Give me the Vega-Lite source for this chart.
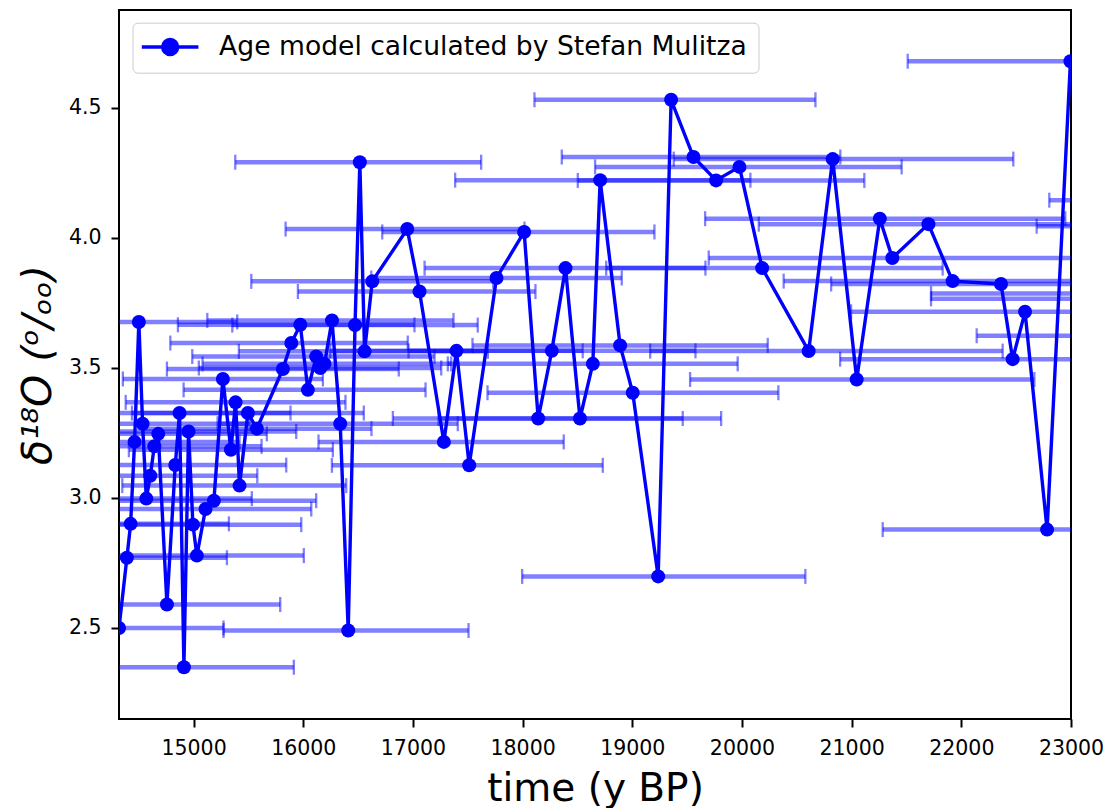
{
  "$schema": "https://vega.github.io/schema/vega-lite/v6.json",
  "width": 952,
  "height": 709,
  "autosize": {"type": "none"},
  "padding": {"left": 119, "top": 10, "right": 38, "bottom": 89},
  "config": {
    "font": "DejaVu Sans",
    "view": {"stroke": "black", "strokeWidth": 2},
    "axis": {
      "grid": false,
      "domain": false,
      "ticks": true,
      "tickColor": "black",
      "tickWidth": 2,
      "tickSize": 8,
      "labelFont": "DejaVu Sans",
      "labelFontSize": 20.5,
      "labelColor": "black",
      "titleFont": "DejaVu Sans",
      "titleFontSize": 39,
      "titleFontWeight": "normal",
      "titleColor": "black"
    }
  },
  "data": {
    "values": [
      {"age": 14320, "d18O": 2.50, "lo": 13360, "hi": 15273},
      {"age": 14392, "d18O": 2.77, "lo": 13480, "hi": 15304},
      {"age": 14426, "d18O": 2.90, "lo": 13530, "hi": 15322},
      {"age": 14462, "d18O": 3.215, "lo": 13505, "hi": 15419},
      {"age": 14501, "d18O": 3.676, "lo": 13604, "hi": 15398},
      {"age": 14535, "d18O": 3.285, "lo": 13560, "hi": 15510},
      {"age": 14569, "d18O": 2.997, "lo": 13607, "hi": 15531},
      {"age": 14605, "d18O": 3.085, "lo": 13629, "hi": 15581},
      {"age": 14642, "d18O": 3.198, "lo": 13664, "hi": 15620},
      {"age": 14678, "d18O": 3.246, "lo": 13688, "hi": 15668},
      {"age": 14757, "d18O": 2.59, "lo": 13724, "hi": 15790},
      {"age": 14833, "d18O": 3.126, "lo": 13821, "hi": 15845},
      {"age": 14872, "d18O": 3.326, "lo": 13860, "hi": 15884},
      {"age": 14912, "d18O": 2.349, "lo": 13910, "hi": 15914},
      {"age": 14954, "d18O": 3.255, "lo": 13972, "hi": 15936},
      {"age": 14994, "d18O": 2.897, "lo": 14006, "hi": 15982},
      {"age": 15030, "d18O": 2.778, "lo": 14055, "hi": 16005},
      {"age": 15109, "d18O": 2.957, "lo": 14145, "hi": 16073},
      {"age": 15185, "d18O": 2.989, "lo": 14252, "hi": 16118},
      {"age": 15267, "d18O": 3.457, "lo": 14355, "hi": 16179},
      {"age": 15340, "d18O": 3.185, "lo": 14410, "hi": 16270},
      {"age": 15383, "d18O": 3.367, "lo": 14381, "hi": 16385},
      {"age": 15419, "d18O": 3.047, "lo": 14350, "hi": 16392},
      {"age": 15495, "d18O": 3.326, "lo": 14438, "hi": 16552},
      {"age": 15577, "d18O": 3.266, "lo": 14532, "hi": 16622},
      {"age": 15814, "d18O": 3.495, "lo": 14757, "hi": 16871},
      {"age": 15891, "d18O": 3.595, "lo": 14788, "hi": 16953},
      {"age": 15973, "d18O": 3.665, "lo": 14857, "hi": 17014},
      {"age": 16042, "d18O": 3.415, "lo": 14909, "hi": 17115},
      {"age": 16118, "d18O": 3.543, "lo": 14988, "hi": 17197},
      {"age": 16155, "d18O": 3.499, "lo": 15048, "hi": 17258},
      {"age": 16194, "d18O": 3.515, "lo": 15082, "hi": 17349},
      {"age": 16262, "d18O": 3.682, "lo": 15125, "hi": 17370},
      {"age": 16337, "d18O": 3.285, "lo": 15219, "hi": 17409},
      {"age": 16410, "d18O": 2.49, "lo": 15273, "hi": 17507},
      {"age": 16472, "d18O": 3.664, "lo": 15353, "hi": 17591},
      {"age": 16516, "d18O": 4.29, "lo": 15380, "hi": 17622},
      {"age": 16559, "d18O": 3.563, "lo": 15413, "hi": 17683},
      {"age": 16629, "d18O": 3.832, "lo": 15526, "hi": 17732},
      {"age": 16948, "d18O": 4.033, "lo": 15839, "hi": 18017},
      {"age": 17060, "d18O": 3.793, "lo": 15951, "hi": 18117},
      {"age": 17282, "d18O": 3.215, "lo": 16139, "hi": 18375},
      {"age": 17397, "d18O": 3.565, "lo": 16246, "hi": 18548},
      {"age": 17513, "d18O": 3.125, "lo": 16261, "hi": 18731},
      {"age": 17762, "d18O": 3.845, "lo": 16620, "hi": 18904},
      {"age": 18014, "d18O": 4.022, "lo": 16720, "hi": 19202},
      {"age": 18142, "d18O": 3.305, "lo": 16817, "hi": 19460},
      {"age": 18266, "d18O": 3.565, "lo": 16960, "hi": 19576},
      {"age": 18391, "d18O": 3.883, "lo": 17106, "hi": 19667},
      {"age": 18523, "d18O": 3.305, "lo": 17233, "hi": 19810},
      {"age": 18640, "d18O": 3.515, "lo": 17318, "hi": 19961},
      {"age": 18707, "d18O": 4.221, "lo": 17385, "hi": 20077},
      {"age": 18889, "d18O": 3.586, "lo": 17543, "hi": 20235},
      {"age": 19004, "d18O": 3.404, "lo": 17680, "hi": 20332},
      {"age": 19236, "d18O": 2.698, "lo": 17996, "hi": 20578},
      {"age": 19354, "d18O": 4.53, "lo": 18108, "hi": 20670},
      {"age": 19558, "d18O": 4.31, "lo": 18357, "hi": 20897},
      {"age": 19764, "d18O": 4.22, "lo": 18503, "hi": 21116},
      {"age": 19977, "d18O": 4.272, "lo": 18661, "hi": 21456},
      {"age": 20184, "d18O": 3.883, "lo": 18762, "hi": 21830},
      {"age": 20608, "d18O": 3.564, "lo": 19163, "hi": 22377},
      {"age": 20827, "d18O": 4.302, "lo": 19378, "hi": 22474},
      {"age": 21046, "d18O": 3.455, "lo": 19527, "hi": 22666},
      {"age": 21257, "d18O": 4.073, "lo": 19664, "hi": 22948},
      {"age": 21371, "d18O": 3.922, "lo": 19697, "hi": 23048},
      {"age": 21700, "d18O": 4.052, "lo": 20153, "hi": 23258},
      {"age": 21921, "d18O": 3.833, "lo": 20380, "hi": 23459},
      {"age": 22362, "d18O": 3.822, "lo": 20813, "hi": 23914},
      {"age": 22468, "d18O": 3.533, "lo": 20895, "hi": 24042},
      {"age": 22581, "d18O": 3.715, "lo": 20995, "hi": 24170},
      {"age": 22782, "d18O": 2.878, "lo": 21283, "hi": 24279},
      {"age": 22995, "d18O": 4.678, "lo": 21511, "hi": 24480},
      {"age": null, "d18O": 4.144, "lo": 22802, "hi": 25900},
      {"age": null, "d18O": 4.044, "lo": 22687, "hi": 25700},
      {"age": null, "d18O": 3.785, "lo": 21724, "hi": 24900},
      {"age": null, "d18O": 3.765, "lo": 21724, "hi": 24900},
      {"age": null, "d18O": 3.623, "lo": 22140, "hi": 25200}
    ]
  },
  "encoding": {
    "y": {
      "field": "d18O",
      "type": "quantitative",
      "scale": {"domain": [2.15, 4.875], "nice": false, "zero": false},
      "axis": {
        "values": [2.5, 3.0, 3.5, 4.0, 4.5],
        "format": ".1f",
        "labelPadding": 10,
        "title": "δ¹⁸O  (ᵒ/ₒₒ)",
        "titleFontSize": 41,
        "titleFontStyle": "italic",
        "titleAngle": -90,
        "titleAlign": "center",
        "titleBaseline": "alphabetic",
        "titleX": -69,
        "titleY": 354.5
      }
    }
  },
  "layer": [
    {
      "mark": {"type": "rule", "color": "blue", "opacity": 0.5, "strokeWidth": 4.5, "clip": true},
      "encoding": {
        "x": {
          "field": "lo",
          "type": "quantitative",
          "scale": {"domain": [14320, 23000], "nice": false, "zero": false},
          "axis": {
            "values": [15000, 16000, 17000, 18000, 19000, 20000, 21000, 22000, 23000],
            "format": "d",
            "labelPadding": 11,
            "labelFlush": false,
            "title": "time (y BP)",
            "titleBaseline": "alphabetic",
            "titleY": 81
          }
        },
        "x2": {"field": "hi"}
      }
    },
    {
      "mark": {"type": "tick", "orient": "vertical", "color": "blue", "opacity": 0.5, "size": 15, "thickness": 2.3, "clip": true},
      "encoding": {"x": {"field": "lo", "type": "quantitative"}}
    },
    {
      "mark": {"type": "tick", "orient": "vertical", "color": "blue", "opacity": 0.5, "size": 15, "thickness": 2.3, "clip": true},
      "encoding": {"x": {"field": "hi", "type": "quantitative"}}
    },
    {
      "transform": [{"filter": "isValid(datum.age)"}],
      "mark": {"type": "line", "color": "blue", "strokeWidth": 3.4, "clip": true},
      "encoding": {
        "x": {"field": "age", "type": "quantitative"},
        "color": {
          "datum": "Age model calculated by Stefan Mulitza",
          "type": "nominal",
          "scale": {"range": ["blue"]},
          "legend": {
            "title": null,
            "orient": "none",
            "legendX": 13.5,
            "legendY": 12.7,
            "padding": 11,
            "cornerRadius": 5,
            "fillColor": "rgba(255,255,255,0.8)",
            "strokeColor": "#cccccc",
            "labelFont": "DejaVu Sans",
            "labelFontSize": 26.6,
            "labelColor": "black",
            "labelLimit": 0,
            "labelOffset": 49,
            "symbolType": "M-2,0L5.55,0M0.78,0A1,1,0,1,1,2.78,0A1,1,0,1,1,0.78,0Z",
            "symbolSize": 225,
            "symbolStrokeWidth": 3.4,
            "symbolFillColor": "blue",
            "symbolStrokeColor": "blue",
            "symbolOpacity": 1
          }
        }
      }
    },
    {
      "transform": [{"filter": "isValid(datum.age)"}],
      "mark": {"type": "circle", "color": "blue", "opacity": 1, "size": 196, "clip": true},
      "encoding": {"x": {"field": "age", "type": "quantitative"}}
    }
  ]
}
